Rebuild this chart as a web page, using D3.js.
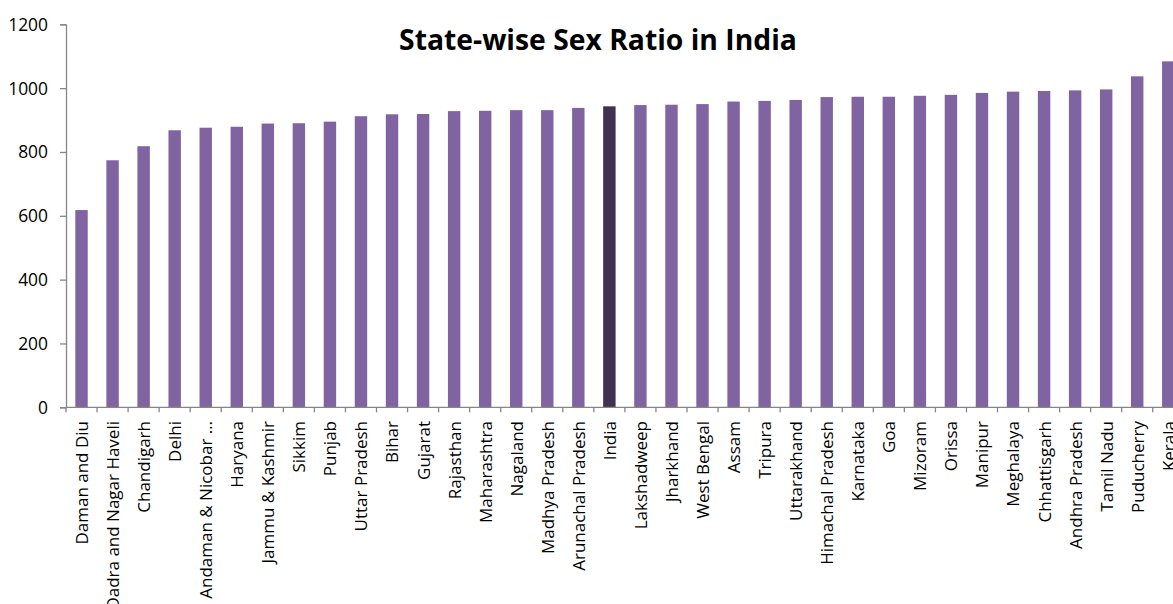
<!DOCTYPE html>
<html>
<head>
<meta charset="utf-8">
<script src="https://cdn.jsdelivr.net/npm/d3@7"></script>
<style>
  html, body { margin: 0; padding: 0; background: #fff; }
  svg { display: block; }
  text { font-family: "Open Sans", "Noto Sans", sans-serif; }
</style>
</head>
<body>
<svg id="chart" width="1173" height="604"></svg>
<script>
const states = ["Daman and Diu", "Dadra and Nagar Haveli", "Chandigarh", "Delhi", "Andaman & Nicobar \u2026",
  "Haryana", "Jammu & Kashmir", "Sikkim", "Punjab", "Uttar Pradesh", "Bihar", "Gujarat", "Rajasthan",
  "Maharashtra", "Nagaland", "Madhya Pradesh", "Arunachal Pradesh", "India", "Lakshadweep", "Jharkhand",
  "West Bengal", "Assam", "Tripura", "Uttarakhand", "Himachal Pradesh", "Karnataka", "Goa", "Mizoram",
  "Orissa", "Manipur", "Meghalaya", "Chhattisgarh", "Andhra Pradesh", "Tamil Nadu", "Puducherry", "Kerala"];
const sexRatio = [618, 774, 818, 868, 876, 879, 889, 890, 895, 912, 918, 919, 928, 929, 931, 931, 938, 943,
  947, 948, 950, 958, 960, 963, 972, 973, 973, 976, 979, 985, 989, 991, 993, 996, 1037, 1084];
const yTicks = [0, 200, 400, 600, 800, 1000, 1200];
const highlight = "India";
const chartTitle = "State-wise Sex Ratio in India";

(function () {
const svg = d3.select("#chart");
const plotLeft = 66, plotBottom = 407.3, plotTop = 24.3;
const step = 31.05;
const x = d3.scaleBand().domain(states).range([plotLeft, plotLeft + step * states.length])
  .paddingInner(0.6).paddingOuter(0.3);
const y = d3.scaleLinear().domain([0, 1200]).range([plotBottom, plotTop]);
const axisColor = "#868686";

// bars
svg.append("g").selectAll("rect").data(states).join("rect")
  .attr("x", d => x(d))
  .attr("y", (d, i) => y(sexRatio[i]))
  .attr("width", x.bandwidth())
  .attr("height", (d, i) => y(0) - y(sexRatio[i]))
  .attr("fill", d => d === highlight ? "#403152" : "#8064A2");

// y axis
const yAxis = svg.append("g").attr("transform", `translate(${plotLeft},0)`)
  .call(d3.axisLeft(y).tickValues(yTicks).tickSize(6).tickPadding(12).tickFormat(d3.format("d")));
yAxis.select(".domain").attr("stroke", axisColor).attr("stroke-width", 1.3);
yAxis.selectAll(".tick line").attr("stroke", axisColor).attr("stroke-width", 1.3);
yAxis.selectAll(".tick text").attr("fill", "#000").style("font-size", "17.4px")
  .attr("dy", "0.34em").style("font-family", "'Open Sans', sans-serif");

// x axis: line + ticks at band boundaries
const xg = svg.append("g");
xg.append("line").attr("x1", plotLeft).attr("x2", 1173).attr("y1", plotBottom).attr("y2", plotBottom)
  .attr("stroke", axisColor).attr("stroke-width", 1.3);
const bounds = d3.range(states.length + 1).map(i => plotLeft + i * x.step());
xg.selectAll("line.tk").data(bounds).join("line").attr("class", "tk")
  .attr("x1", d => d).attr("x2", d => d).attr("y1", plotBottom).attr("y2", plotBottom + 5)
  .attr("stroke", axisColor).attr("stroke-width", 1.3);

// x labels
xg.selectAll("text.lbl").data(states).join("text").attr("class", "lbl")
  .attr("transform", d => `translate(${x(d) + x.bandwidth() / 2},421) rotate(-90)`)
  .attr("text-anchor", "end")
  .attr("dy", "0.38em")
  .style("font-size", "17px")
  .attr("fill", "#000")
  .text(d => d);

// title
svg.append("text").attr("x", 598).attr("y", 50).attr("text-anchor", "middle")
  .style("font-weight", "bold").style("font-size", "28.3px").attr("fill", "#000")
  .text(chartTitle);
})();
</script>
</body>
</html>
